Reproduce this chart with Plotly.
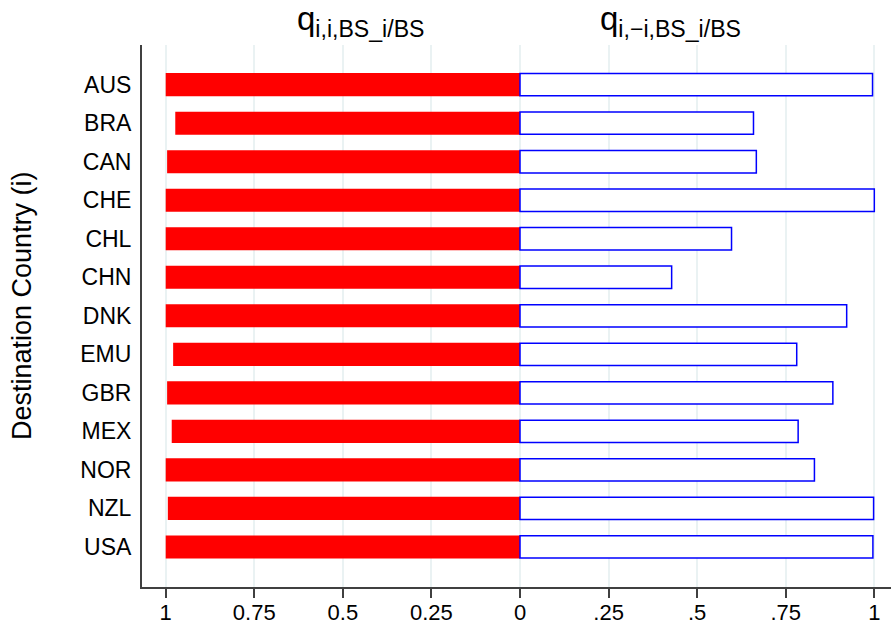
import plotly.graph_objects as go

countries = ["AUS", "BRA", "CAN", "CHE", "CHL", "CHN", "DNK", "EMU", "GBR", "MEX", "NOR", "NZL", "USA"]
q_own = [1.000, 0.973, 0.996, 1.000, 1.000, 1.000, 1.000, 0.979, 0.996, 0.983, 1.000, 0.994, 1.000]
q_other = [0.995, 0.659, 0.667, 1.000, 0.597, 0.428, 0.922, 0.781, 0.883, 0.785, 0.831, 0.998, 0.996]
tick_vals = [-1, -0.75, -0.5, -0.25, 0, 0.25, 0.5, 0.75, 1]
tick_text = ["1", "0.75", "0.5", "0.25", "0", ".25", ".5", ".75", "1"]

W, H = 891, 625
L, R, T, B = 142, 0, 45, 38
pw, ph = W - L - R, H - T - B

def px_x(p):
    return (p - L) / pw

def px_y(p):
    return (H - B - p) / ph

fig = go.Figure()
fig.add_trace(go.Bar(
    y=countries, x=[-v for v in q_own], orientation="h",
    marker=dict(color="#ff0000", line=dict(width=0)),
    width=0.6, showlegend=False, hoverinfo="skip",
))
fig.add_trace(go.Bar(
    y=countries, x=q_other, orientation="h",
    marker=dict(color="white", line=dict(color="#0000ff", width=1.5)),
    width=0.58, showlegend=False, hoverinfo="skip",
))

font = "Liberation Sans, Arial, sans-serif"
fig.update_layout(
    width=W, height=H,
    margin=dict(l=L, r=R, t=T, b=B, pad=0, autoexpand=False),
    paper_bgcolor="white", plot_bgcolor="white",
    barmode="overlay",
    font=dict(family=font, color="black"),
    xaxis=dict(
        range=[-1.0669, 1.0471],
        tickvals=tick_vals, ticktext=tick_text,
        tickfont=dict(size=22, color="black"),
        ticks="outside", ticklen=9, tickwidth=1.5, tickcolor="#404040",
        ticklabelstandoff=-4,
        showgrid=True, gridcolor="rgb(234,242,243)", gridwidth=1.5,
        zeroline=False,
        showline=True, linecolor="#404040", linewidth=1.5,
        automargin=False, fixedrange=True,
    ),
    yaxis=dict(
        categoryorder="array", categoryarray=countries,
        range=[12 + 1.04, -1.03],
        tickfont=dict(size=23, color="black"),
        ticks="", ticklabelstandoff=4,
        showgrid=False, zeroline=False,
        showline=True, linecolor="#404040", linewidth=2,
        automargin=False, fixedrange=True,
    ),
    annotations=[
        dict(text="q<sub>i,i,BS_i/BS</sub>", xref="paper", yref="paper",
             x=px_x(360), y=px_y(44), xanchor="center", yanchor="bottom",
             showarrow=False, font=dict(size=33, color="black", family=font)),
        dict(text="q<sub>i,\u2212i,BS_i/BS</sub>", xref="paper", yref="paper",
             x=px_x(670), y=px_y(44), xanchor="center", yanchor="bottom",
             showarrow=False, font=dict(size=33, color="black", family=font)),
        dict(text="Destination Country (i)", xref="paper", yref="paper",
             x=px_x(22), y=px_y(306), xanchor="center", yanchor="middle",
             textangle=-90, showarrow=False,
             font=dict(size=27, color="black", family=font)),
    ],
)

fig.write_html(
    "out.html",
    config={"displayModeBar": False},
    post_script="document.body.style.margin='0';document.body.style.overflow='hidden';",
)
